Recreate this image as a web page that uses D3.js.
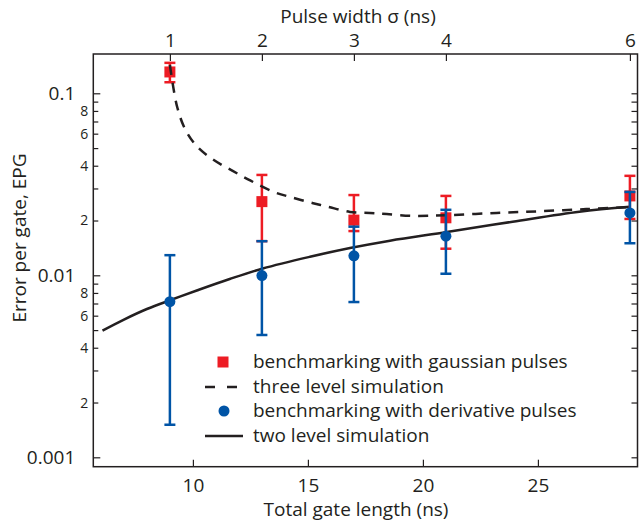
<!DOCTYPE html>
<html>
<head>
<meta charset="utf-8">
<script src="https://cdn.jsdelivr.net/npm/d3@7"></script>
<style>
  body { margin: 0; background: #fff; }
  text { font-family: "Open Sans", sans-serif; fill: #231f20; }
</style>
</head>
<body>
<script>
// dati
var gateLengths = [9, 13, 17, 21, 29];
var gaussEpg = [0.131, 0.0254, 0.0201, 0.0207, 0.0273];
var gaussLo  = [0.115, 0.0154, 0.0175, 0.0140, 0.0204];
var gaussHi  = [0.147, 0.0356, 0.0276, 0.0273, 0.0352];
var derivEpg = [0.00716, 0.00996, 0.0128, 0.0164, 0.0220];
var derivLo  = [0.00151, 0.0047, 0.00713, 0.0102, 0.0150];
var derivHi  = [0.0129, 0.0154, 0.0185, 0.0229, 0.0287];

var threeLevelX = [9, 9.32, 9.68, 10.19, 10.91, 11.71, 12.51, 13.49, 14.29, 15.23, 15.87, 16.83, 17.7, 18.43, 19.57, 21.04, 23.2, 25.1, 27.1, 29];
var threeLevelY = [0.143, 0.0838, 0.0629, 0.0509, 0.043, 0.0376, 0.0331, 0.0288, 0.0268, 0.0249, 0.0238, 0.0223, 0.022, 0.0217, 0.0212, 0.0214, 0.022, 0.0225, 0.0231, 0.0237];

var twoLevelX = [6.07, 6.96, 8.0, 9.09, 10.17, 11.6, 13.04, 15.09, 16.83, 18.57, 21.04, 23.9, 26.8, 29];
var twoLevelY = [0.00497, 0.00568, 0.00653, 0.00736, 0.00825, 0.00954, 0.0109, 0.01264, 0.01412, 0.0155, 0.0173, 0.0197, 0.02236, 0.0238];

var gateTicks = [10, 15, 20, 25];
var pulseTicks = [1, 2, 3, 4, 6];
var majorY = [0.1, 0.01, 0.001];
var minorLabelled = [0.08, 0.06, 0.04, 0.02, 0.008, 0.006, 0.004, 0.002];

var legendLabels = ["benchmarking with gaussian pulses", "three level simulation",
  "benchmarking with derivative pulses", "two level simulation"];

var red = "#ed1c24", blue = "#0054a6", ink = "#231f20";

var W = 639, H = 521;
var pLeft = 93.3, pRight = 637.5, pTop = 54, pBottom = 466.7;

var svg = d3.select("body").append("svg")
  .attr("width", W).attr("height", H);

var x = d3.scaleLinear().domain([5.67, 29.33]).range([pLeft, pRight]);
// scala superiore: lunghezza = 4*sigma + 5
var xs = d3.scaleLinear().domain([(5.67 - 5) / 4, (29.33 - 5) / 4]).range([pLeft, pRight]);
var y = d3.scaleLog().domain([0.000888, 0.1644]).range([pBottom, pTop]);

// tick minori
var minorY = [];
[0.001, 0.01, 0.1].forEach(function (d) {
  for (var k = 2; k <= 9; k++) {
    var v = d * k;
    if (v < 0.1644) minorY.push(v);
  }
});

var g = svg.append("g");

// assi con tick interni
function styleAxis(sel) {
  sel.select(".domain").remove();
  sel.selectAll("line").attr("stroke", ink).attr("stroke-width", 1.2);
  sel.selectAll("text").attr("fill", ink);
}

g.append("g").attr("transform", "translate(0," + pBottom + ")")
  .call(d3.axisBottom(x).tickValues(gateTicks).tickSize(-7).tickPadding(12).tickFormat(d3.format("d")))
  .call(styleAxis)
  .selectAll("text").style("font-size", "19px");

g.append("g").attr("transform", "translate(0," + pTop + ")")
  .call(d3.axisTop(xs).tickValues(pulseTicks).tickSize(-7).tickPadding(7).tickFormat(d3.format("d")))
  .call(styleAxis)
  .selectAll("text").style("font-size", "19px");

g.append("g").attr("transform", "translate(" + pLeft + ",0)")
  .call(d3.axisLeft(y).tickValues(majorY).tickSize(-7).tickPadding(18).tickFormat(function (d) { return d3.format("")(d); }))
  .call(styleAxis)
  .selectAll("text").style("font-size", "19px");

g.append("g").attr("transform", "translate(" + pLeft + ",0)")
  .call(d3.axisLeft(y).tickValues(minorY).tickSize(-5).tickPadding(5)
    .tickFormat(function (d) {
      var m = minorLabelled.some(function (v) { return Math.abs(v - d) / v < 1e-6; });
      return m ? Math.round(d / Math.pow(10, Math.floor(Math.log10(d) + 1e-9))) : "";
    }))
  .call(styleAxis)
  .selectAll("text").style("font-size", "14px");

g.append("g").attr("transform", "translate(" + pRight + ",0)")
  .call(d3.axisRight(y).tickValues(majorY.concat(minorY)).tickSize(-6).tickFormat(""))
  .call(styleAxis);

g.append("rect")
  .attr("x", pLeft).attr("y", pTop)
  .attr("width", pRight - pLeft).attr("height", pBottom - pTop)
  .attr("fill", "none").attr("stroke", ink).attr("stroke-width", 1.5);

// titoli
svg.append("text").attr("x", 356).attr("y", 516).attr("text-anchor", "middle")
  .style("font-size", "19px").text("Total gate length (ns)");
svg.append("text").attr("x", 358).attr("y", 23).attr("text-anchor", "middle")
  .style("font-size", "19px").text("Pulse width \u03c3 (ns)");
svg.append("text").attr("transform", "translate(26,238) rotate(-90)").attr("text-anchor", "middle")
  .style("font-size", "19px").text("Error per gate, EPG");

var line = d3.line()
  .x(function (d) { return x(d[0]); })
  .y(function (d) { return y(d[1]); })
  .curve(d3.curveCatmullRom);

var twoLevel = twoLevelX.map(function (v, i) { return [v, twoLevelY[i]]; });
var threeLevel = threeLevelX.map(function (v, i) { return [v, threeLevelY[i]]; });

svg.append("path").datum(twoLevel).attr("d", line)
  .attr("fill", "none").attr("stroke", ink).attr("stroke-width", 2.5);

// barre d'errore
function errorBars(lo, hi, colour) {
  var grp = svg.append("g").attr("stroke", colour).attr("stroke-width", 2.5);
  gateLengths.forEach(function (gl, i) {
    var cx = x(gl);
    grp.append("line").attr("x1", cx).attr("x2", cx).attr("y1", y(lo[i])).attr("y2", y(hi[i]));
    grp.append("line").attr("x1", cx - 5.5).attr("x2", cx + 5.5).attr("y1", y(lo[i])).attr("y2", y(lo[i]));
    grp.append("line").attr("x1", cx - 5.5).attr("x2", cx + 5.5).attr("y1", y(hi[i])).attr("y2", y(hi[i]));
  });
}

errorBars(gaussLo, gaussHi, red);
svg.append("g").selectAll("rect").data(gateLengths).enter().append("rect")
  .attr("x", function (d) { return x(d) - 5.5; })
  .attr("y", function (d, i) { return y(gaussEpg[i]) - 5.5; })
  .attr("width", 11).attr("height", 11).attr("fill", red);

svg.append("path").datum(threeLevel).attr("d", line)
  .attr("fill", "none").attr("stroke", ink).attr("stroke-width", 2.5)
  .attr("stroke-dasharray", "10,8");

errorBars(derivLo, derivHi, blue);
svg.append("g").selectAll("circle").data(gateLengths).enter().append("circle")
  .attr("cx", function (d) { return x(d); })
  .attr("cy", function (d, i) { return y(derivEpg[i]); })
  .attr("r", 5.5).attr("fill", blue);

// legenda
var legY = [362, 387, 411, 436];
var leg = svg.append("g");
leg.append("rect").attr("x", 217.5).attr("y", legY[0] - 5.5).attr("width", 11).attr("height", 11).attr("fill", red);
leg.append("line").attr("x1", 205).attr("x2", 239).attr("y1", legY[1]).attr("y2", legY[1])
  .attr("stroke", ink).attr("stroke-width", 2.5).attr("stroke-dasharray", "10,12");
leg.append("circle").attr("cx", 224).attr("cy", legY[2]).attr("r", 5.5).attr("fill", blue);
leg.append("line").attr("x1", 205).attr("x2", 243).attr("y1", legY[3]).attr("y2", legY[3])
  .attr("stroke", ink).attr("stroke-width", 2.5);
leg.selectAll("text").data(legendLabels).enter().append("text")
  .attr("x", 253).attr("y", function (d, i) { return legY[i] + 6; })
  .style("font-size", "19px").text(function (d) { return d; });
</script>
</body>
</html>
